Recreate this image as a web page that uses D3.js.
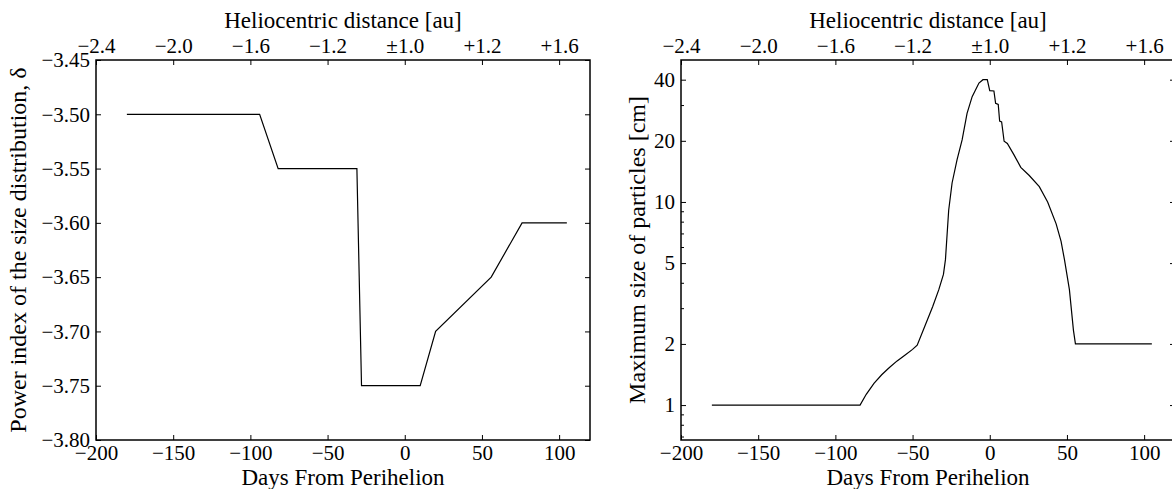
<!DOCTYPE html>
<html>
<head>
<meta charset="utf-8">
<script src="https://cdn.jsdelivr.net/npm/d3@7"></script>
<style>
    body { margin: 0; background: #fff; }
    svg text { font-family: "Liberation Serif", "DejaVu Serif", serif; fill: #000; }
</style>
</head>
<body>
<div id="chart"></div>
<script>
// shared x axis: days from perihelion, with heliocentric distance on top
var dayTicks = [-200, -150, -100, -50, 0, 50, 100];
var helioLabels = ["\u22122.4", "\u22122.0", "\u22121.6", "\u22121.2", "\u00b11.0", "+1.2", "+1.6"];

// left panel: power index of the size distribution
var deltaDays = [-180, -94, -82, -31, -28, 10, 20, 56, 76, 105];
var deltaValues = [-3.50, -3.50, -3.55, -3.55, -3.75, -3.75, -3.70, -3.65, -3.60, -3.60];
var deltaTicks = [-3.80, -3.75, -3.70, -3.65, -3.60, -3.55, -3.50, -3.45];

// right panel: maximum size of particles (cm), log scale
var sizeDays = [-180, -84, -80, -75, -70, -65, -60, -55, -50, -47, -42, -37, -33, -30, -28.7,
                -26.6, -24.4, -21.2, -17.9, -14.7, -11.4, -7, -4.4, -1.6, 0, 2.7, 3.8, 5.5, 6.4,
                7.7, 9.3, 11.4, 15.8, 20.1, 25.6, 32.1, 37.5, 43, 46.2, 48.4, 51.6, 54.2, 55.5, 105];
var sizeValues = [1, 1, 1.13, 1.28, 1.41, 1.53, 1.65, 1.76, 1.88, 1.97, 2.45, 3.05, 3.7, 4.4, 5.2,
                  9.1, 12.4, 16.1, 20.2, 27.3, 33, 38.5, 40, 40, 35.3, 35.2, 30.6, 30.2, 25,
                  24.8, 19.9, 19.4, 17, 14.8, 13.5, 11.9, 10.0, 7.8, 6.4, 5.2, 3.7, 2.34, 2.0, 2.0];
var sizeTicks = [1, 2, 5, 10, 20, 40];
var sizeMinorTicks = [0.7, 0.8, 0.9, 3, 4, 6, 7, 8, 9, 30];

var W = 1172, H = 489;
var panelW = 494, panelH = 380, panelTop = 60;
var tickFont = 21, labelFont = 23, yLabelFont = 24;

var svg = d3.select("#chart").append("svg")
    .attr("width", W)
    .attr("height", H);

function styleAxis(g, size) {
    g.select(".domain").remove();
    g.attr("font-family", "Liberation Serif, DejaVu Serif, serif")
     .attr("font-size", size);
    g.selectAll(".tick line").attr("stroke", "#000").attr("stroke-width", 1);
    g.selectAll(".tick text").attr("fill", "#000");
}

function drawPanel(left, y, yTicks, yFormat, minorTicks, days, values, yLabel) {
    var g = svg.append("g").attr("transform", "translate(" + left + "," + panelTop + ")");

    var x = d3.scaleLinear().domain([-200, 120]).range([0, panelW]);

    // bottom axis (days) and top axis (heliocentric distance)
    g.append("g").attr("transform", "translate(0," + panelH + ")")
        .call(d3.axisBottom(x).tickValues(dayTicks).tickFormat(d3.format("d")).tickSize(-5).tickPadding(5))
        .call(styleAxis, tickFont);
    g.append("g")
        .call(d3.axisTop(x).tickValues(dayTicks).tickFormat(function(d, i) { return helioLabels[i]; })
              .tickSize(-5).tickPadding(7))
        .call(styleAxis, tickFont);

    // left axis with labels, right axis mirrored ticks only
    g.append("g")
        .call(d3.axisLeft(y).tickValues(yTicks).tickFormat(yFormat).tickSize(-5).tickPadding(6))
        .call(styleAxis, tickFont);
    g.append("g").attr("transform", "translate(" + panelW + ",0)")
        .call(d3.axisRight(y).tickValues(yTicks).tickFormat("").tickSize(-5))
        .call(styleAxis, tickFont);

    if (minorTicks) {
        g.append("g")
            .call(d3.axisLeft(y).tickValues(minorTicks).tickFormat("").tickSize(-3))
            .call(styleAxis, tickFont);
        g.append("g").attr("transform", "translate(" + panelW + ",0)")
            .call(d3.axisRight(y).tickValues(minorTicks).tickFormat("").tickSize(-3))
            .call(styleAxis, tickFont);
    }

    // data line
    var line = d3.line()
        .x(function(d, i) { return x(days[i]); })
        .y(function(d) { return y(d); });
    g.append("path")
        .datum(values)
        .attr("d", line)
        .attr("fill", "none")
        .attr("stroke", "#000")
        .attr("stroke-width", 1.2);

    // frame
    g.append("rect")
        .attr("width", panelW)
        .attr("height", panelH)
        .attr("fill", "none")
        .attr("stroke", "#000")
        .attr("stroke-width", 1.5);

    // axis titles
    g.append("text")
        .attr("x", panelW / 2)
        .attr("y", -32)
        .attr("text-anchor", "middle")
        .attr("font-size", labelFont)
        .text("Heliocentric distance [au]");
    g.append("text")
        .attr("x", panelW / 2)
        .attr("y", panelH + 45)
        .attr("text-anchor", "middle")
        .attr("font-size", labelFont)
        .text("Days From Perihelion");
    g.append("text")
        .attr("transform", "translate(" + yLabel.x + "," + (panelH / 2) + ") rotate(-90)")
        .attr("text-anchor", "middle")
        .attr("font-size", yLabelFont)
        .text(yLabel.text);
}

var yDelta = d3.scaleLinear().domain([-3.80, -3.45]).range([panelH, 0]);
drawPanel(96, yDelta, deltaTicks, d3.format(".2f"), null, deltaDays, deltaValues,
          { x: -70, text: "Power index of the size distribution, \u03b4" });

var ySize = d3.scaleLog().domain([0.673, 50]).range([panelH, 0]);
drawPanel(681, ySize, sizeTicks, d3.format("d"), sizeMinorTicks, sizeDays, sizeValues,
          { x: -36, text: "Maximum size of particles [cm]" });
</script>
</body>
</html>
